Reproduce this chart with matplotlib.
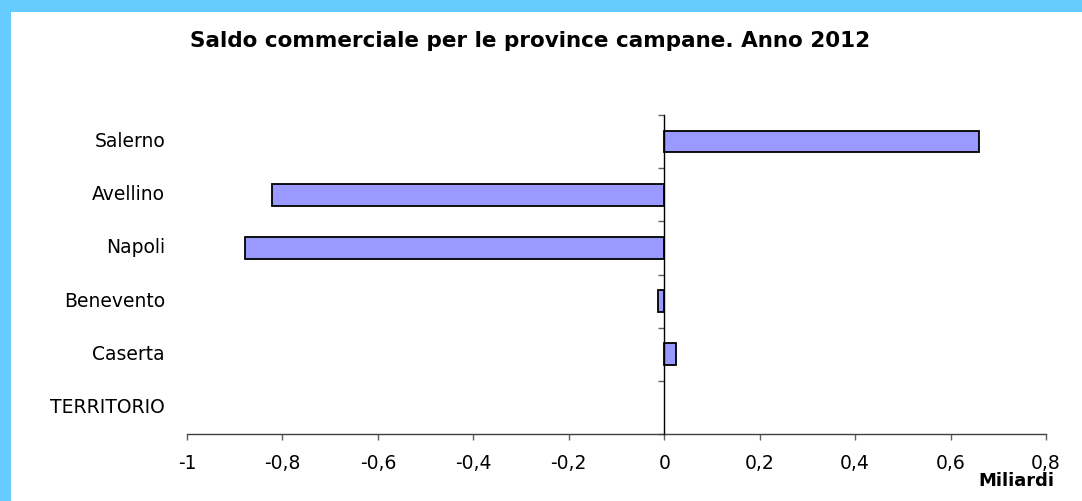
import numpy as np
import matplotlib
matplotlib.use("Agg")
import matplotlib.pyplot as plt
from matplotlib.patches import Rectangle

categories = ["TERRITORIO", "Caserta", "Benevento", "Napoli", "Avellino", "Salerno"]
values = [np.nan, 0.025, -0.013, -0.878, -0.822, 0.660]
xticks = [-1, -0.8, -0.6, -0.4, -0.2, 0, 0.2, 0.4, 0.6, 0.8]
title = "Saldo commerciale per le province campane. Anno 2012"
unit_label = "Miliardi"

plt.rcParams['font.family'] = ['DejaVu Sans']

W, H = 1082, 501
fig = plt.figure(figsize=(W / 100, H / 100), dpi=100)
fig.patch.set_facecolor('white')

# light blue frame (top and left)
fig.patches.append(Rectangle((0, 1 - 12 / H), 1, 12 / H, transform=fig.transFigure,
                             facecolor='#66CCFF', edgecolor='none', zorder=0))
fig.patches.append(Rectangle((0, 0), 11 / W, 1, transform=fig.transFigure,
                             facecolor='#66CCFF', edgecolor='none', zorder=0))

left, right = 187 / W, 1046 / W
bottom, top = 1 - 434 / H, 1 - 115 / H
ax = fig.add_axes([left, bottom, right - left, top - bottom])
ax.set_facecolor('none')

pos = np.arange(len(categories))
ax.barh(pos, values, height=0.41, color='#9999FF', edgecolor='black', linewidth=1.3, zorder=3)

ax.set_xlim(-1, 0.8)
ax.set_ylim(-0.5, len(categories) - 0.5)

for s in ['top', 'right']:
    ax.spines[s].set_visible(False)
ax.spines['left'].set_position(('data', 0))
ax.spines['left'].set_color('black')
ax.spines['left'].set_linewidth(1.0)
ax.spines['left'].set_zorder(4)
ax.spines['bottom'].set_color('#404040')
ax.spines['bottom'].set_linewidth(1.0)

ax.set_yticks(np.arange(-0.5, len(categories), 1.0))
ax.set_yticklabels([])
ax.tick_params(axis='y', direction='out', length=4.5, width=1.0, color='#606060')

ax.set_xticks(xticks)
ax.set_xticklabels([f"{v:g}".replace('.', ',') for v in xticks])
ax.tick_params(axis='x', direction='out', length=4.5, width=1.0, color='#606060',
               labelsize=13.5, pad=10)

for p, c in zip(pos, categories):
    ax.text(-22 / (W * (right - left)), p, c, transform=ax.get_yaxis_transform(),
            ha='right', va='center', fontsize=13.5)

fig.text(530 / W, 1 - 41 / H, title, ha='center', va='center', fontsize=15.5, fontweight='bold')
fig.text(1054 / W, 1 - 481 / H, unit_label, ha='right', va='center', fontsize=13, fontweight='bold')

fig.savefig("out.png", dpi=100)
